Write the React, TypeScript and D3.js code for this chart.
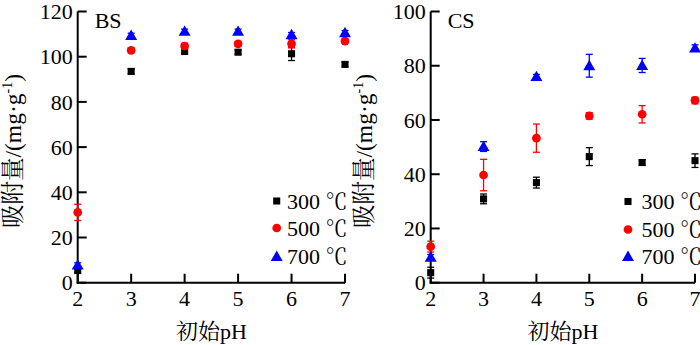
import React from "react";
import * as d3 from "d3";

const PH = [2, 3, 4, 5, 6, 7];
const SERIES_NAMES = ["300 ℃", "500 ℃", "700 ℃"];

const BS_300 = [5.6, 93.5, 102.3, 102.0, 101.3, 96.6];
const BS_300_ERR = [1.5, 1.2, 1.0, 1.0, 3.0, 1.0];
const BS_500 = [31.1, 102.8, 104.7, 105.7, 105.7, 106.9];
const BS_500_ERR = [3.6, 1.0, 1.2, 1.0, 1.8, 1.0];
const BS_700 = [7.8, 109.4, 111.2, 111.2, 109.7, 110.6];
const BS_700_ERR = [1.0, 1.0, 1.0, 1.0, 1.0, 1.0];

const CS_300 = [3.7, 30.9, 36.9, 46.5, 44.3, 45.0];
const CS_300_ERR = [2.0, 1.8, 2.0, 3.3, 1.0, 2.5];
const CS_500 = [13.3, 39.7, 53.3, 61.5, 62.1, 67.2];
const CS_500_ERR = [2.0, 5.8, 5.2, 1.2, 3.2, 1.2];
const CS_700 = [9.4, 50.2, 76.0, 80.0, 80.1, 86.5];
const CS_700_ERR = [1.0, 1.8, 0.8, 4.2, 2.6, 1.2];

const BS_TICKS = [0, 20, 40, 60, 80, 100, 120];
const CS_TICKS = [0, 20, 40, 60, 80, 100];

const COLORS = ["#000000", "#ff0000", "#0000ff"];
const SYMBOLS = [d3.symbolSquare, d3.symbolCircle, d3.symbolTriangle];
const SYM_SIZES = [50, 60, 62];

const FONT = "'Liberation Serif', 'Times New Roman', 'Noto Serif CJK SC', 'Noto Sans CJK SC', serif";
const FS = 22;
const YFS = 23.5;

type PanelProps = {
  x0: number;
  x1: number;
  yMax: number;
  yTicks: number[];
  label: string;
  series: number[][];
  errs: number[][];
  legendMarkX: number;
  legendTextX: number;
  legendYs: number[];
  yLabelX: number;
};

function Panel(p: PanelProps) {
  const x = d3.scaleLinear().domain([2, 7]).range([p.x0, p.x1]);
  const y = d3.scaleLinear().domain([0, p.yMax]).range([282.7, 11.5]);
  const tickLen = 9;
  const sym = (i: number) => d3.symbol().type(SYMBOLS[i]).size(SYM_SIZES[i])() as string;
  return (
    <g fontFamily={FONT}>
      {/* axes */}
      <line x1={p.x0} x2={p.x0} y1={y(p.yMax)} y2={y(0) + 1} stroke="#000" strokeWidth={2} />
      <line x1={p.x0 - 1} x2={p.x1} y1={y(0)} y2={y(0)} stroke="#000" strokeWidth={2} />
      {p.yTicks.map((t) => (
        <g key={"yt" + t}>
          <line x1={p.x0} x2={p.x0 + tickLen} y1={y(t)} y2={y(t)} stroke="#000" strokeWidth={2} />
          <text x={p.x0 - 5} y={y(t)} dy="0.35em" textAnchor="end" fontSize={FS} fill="#000">
            {t}
          </text>
        </g>
      ))}
      {PH.map((t) => (
        <g key={"xt" + t}>
          <line x1={x(t)} x2={x(t)} y1={y(0)} y2={y(0) - tickLen} stroke="#000" strokeWidth={2} />
          <text x={x(t)} y={306} textAnchor="middle" fontSize={FS} fill="#000">
            {t}
          </text>
        </g>
      ))}
      <text x={(p.x0 + p.x1) / 2} y={339} textAnchor="middle" fontSize={FS} fill="#000">
        初始pH
      </text>
      <text
        transform={`translate(${p.yLabelX},151) rotate(-90)`}
        textAnchor="middle"
        fontSize={YFS}
        fill="#000"
      >
        吸附量/(mg·g
        <tspan dy="-9" fontSize={14}>-1</tspan>
        <tspan dy="9">)</tspan>
      </text>
      <text x={p.x0 + 17} y={28} fontSize={FS} fill="#000">
        {p.label}
      </text>
      {/* data */}
      {p.series.map((vals, si) => (
        <g key={"s" + si} fill={COLORS[si]} stroke={COLORS[si]}>
          {vals.map((v, i) => {
            const e = p.errs[si][i];
            const cx = x(PH[i]);
            return (
              <g key={i}>
                <line x1={cx} x2={cx} y1={y(v - e)} y2={y(v + e)} strokeWidth={1.3} />
                <line x1={cx - 3.5} x2={cx + 3.5} y1={y(v - e)} y2={y(v - e)} strokeWidth={1.3} />
                <line x1={cx - 3.5} x2={cx + 3.5} y1={y(v + e)} y2={y(v + e)} strokeWidth={1.3} />
                <path d={sym(si)} transform={`translate(${cx},${y(v) + (si === 2 ? 1 : 0)})`} stroke="none" />
              </g>
            );
          })}
        </g>
      ))}
      {/* legend */}
      {SERIES_NAMES.map((n, si) => (
        <g key={"l" + si}>
          <path
            d={sym(si)}
            transform={`translate(${p.legendMarkX},${p.legendYs[si] + (si === 2 ? 1 : 0)})`}
            fill={COLORS[si]}
          />
          <text x={p.legendTextX} y={p.legendYs[si]} dy="0.35em" fontSize={FS} fill="#000">
            {n}
          </text>
        </g>
      ))}
    </g>
  );
}

export default function App() {
  return (
    <svg
      width={700}
      height={345}
      style={{ position: "absolute", left: 0, top: 0, background: "#fff" }}
    >
      <rect width={700} height={345} fill="#fff" />
      <Panel
        x0={77.7}
        x1={345}
        yMax={120}
        yTicks={BS_TICKS}
        label="BS"
        series={[BS_300, BS_500, BS_700]}
        errs={[BS_300_ERR, BS_500_ERR, BS_700_ERR]}
        legendMarkX={276.7}
        legendTextX={287}
        legendYs={[201, 228, 256.5]}
        yLabelX={21}
      />
      <Panel
        x0={430.7}
        x1={695}
        yMax={100}
        yTicks={CS_TICKS}
        label="CS"
        series={[CS_300, CS_500, CS_700]}
        errs={[CS_300_ERR, CS_500_ERR, CS_700_ERR]}
        legendMarkX={628}
        legendTextX={641.5}
        legendYs={[201.5, 229.5, 256.5]}
        yLabelX={372}
      />
    </svg>
  );
}
